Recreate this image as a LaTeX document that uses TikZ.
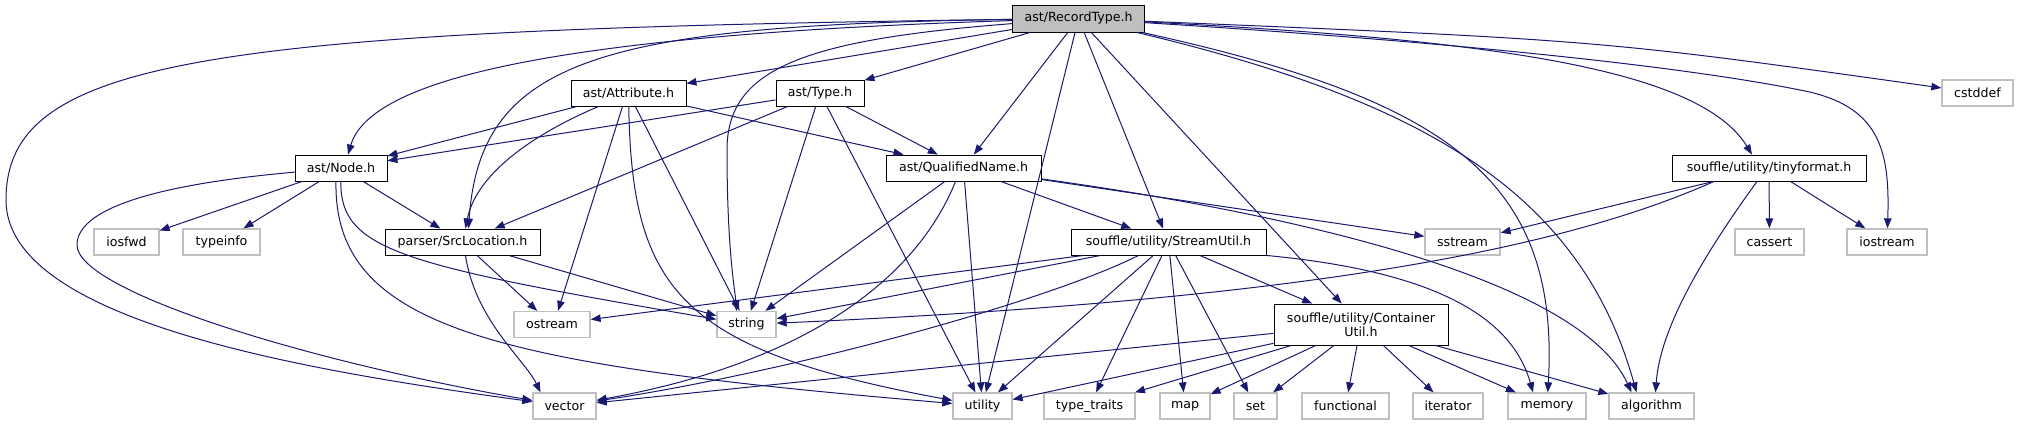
\documentclass[tikz,border=0pt]{standalone}
\usepackage{fontspec}
\setmainfont{DejaVu Sans}
\usetikzlibrary{arrows.meta}
\definecolor{depblue}{RGB}{25,25,112}
\definecolor{sysgray}{RGB}{191,191,191}
\definecolor{curgray}{RGB}{191,191,191}

\begin{document}
\begin{tikzpicture}[x=1pt, y=-1pt,
  filebox/.style={draw=black, fill=white, line width=0.9pt, inner sep=0pt,
    minimum height=26pt, font=\fontsize{12.6}{14}\selectfont},
  syshdr/.style={filebox, draw=sysgray, line width=1.3pt},
  curhdr/.style={filebox, fill=curgray},
  dep/.style={draw=depblue, line width=1pt, -{Triangle[length=10pt, width=7.5pt]}}]
  \useasboundingbox (0,0) rectangle (2018,425);

  % Headers of the project
  \node[curhdr, minimum width=132pt, minimum height=27pt] (record) at (1078.5,18.5) {ast/RecordType.h};
  \node[filebox, minimum width=115pt] (attribute) at (628.5,93) {ast/Attribute.h};
  \node[filebox, minimum width=88pt] (type) at (820,93) {ast/Type.h};
  \node[filebox, minimum width=92pt] (astnode) at (341,168) {ast/Node.h};
  \node[filebox, minimum width=155pt] (qualname) at (963.5,168) {ast/QualifiedName.h};
  \node[filebox, minimum width=194pt] (tinyfmt) at (1769,168) {souffle/utility/tinyformat.h};
  \node[filebox, minimum width=155pt] (srcloc) at (462.5,242) {parser/SrcLocation.h};
  \node[filebox, minimum width=195pt] (streamutil) at (1168.5,242) {souffle/utility/StreamUtil.h};
  \node[filebox, minimum width=174pt, minimum height=41pt, align=center] (containerutil) at (1361,324.5)
    {souffle/utility/Container\\Util.h};

  % System headers
  \node[syshdr, minimum width=71pt] (cstddef) at (1977.5,93) {cstddef};
  \node[syshdr, minimum width=65pt] (iosfwd) at (126.5,242) {iosfwd};
  \node[syshdr, minimum width=77pt] (typeinfo) at (221.5,242) {typeinfo};
  \node[syshdr, minimum width=75pt] (sstream) at (1462.5,242) {sstream};
  \node[syshdr, minimum width=69pt] (cassert) at (1769.5,242) {cassert};
  \node[syshdr, minimum width=80pt] (iostream) at (1887,242) {iostream};
  \node[syshdr, minimum width=76pt] (ostream) at (552,324.5) {ostream};
  \node[syshdr, minimum width=59pt] (string) at (746.5,324.5) {string};
  \node[syshdr, minimum width=63pt] (vector) at (564.5,406) {vector};
  \node[syshdr, minimum width=59pt] (utility) at (982.5,406) {utility};
  \node[syshdr, minimum width=91pt] (typetraits) at (1089.5,406) {type\_traits};
  \node[syshdr, minimum width=50pt] (map) at (1185,406) {map};
  \node[syshdr, minimum width=43pt] (set) at (1255.5,406) {set};
  \node[syshdr, minimum width=87pt] (functional) at (1345.5,406) {functional};
  \node[syshdr, minimum width=70pt] (iterator) at (1448,406) {iterator};
  \node[syshdr, minimum width=78pt] (memory) at (1547,406) {memory};
  \node[syshdr, minimum width=85pt] (algorithm) at (1651.5,406) {algorithm};

  % ast/RecordType.h
  \draw[dep] (record) -- (attribute);
  \draw[dep] (record) -- (type);
  \draw[dep] (record) -- (qualname);
  \draw[dep] (record) -- (utility);
  \draw[dep] (record) -- (streamutil);
  \draw[dep] (record) -- (containerutil);
  \draw[dep] (record) .. controls (200,30) and (6,60) .. (6,200)
    .. controls (6,320) and (300,370) .. (vector);
  \draw[dep] (record) .. controls (550,35) and (370,80) .. ([xshift=7pt]astnode.north);
  \draw[dep] (record) .. controls (600,25) and (480,60) .. ([xshift=6pt]srcloc.north);
  \draw[dep] (record) .. controls (800,40) and (727,70) .. (727,150)
    .. controls (727,250) and (735,290) .. ([xshift=-10pt]string.north);
  \draw[dep] (record) .. controls (1450,100) and (1560,180) .. (memory);
  \draw[dep] (record) .. controls (1420,100) and (1580,190) .. ([xshift=-15pt]algorithm.north);
  \draw[dep] (record) .. controls (1500,40) and (1700,70) .. ([xshift=-17pt]tinyfmt.north);
  \draw[dep] (record) .. controls (1500,45) and (1700,70) .. (1800,90)
    .. controls (1880,105) and (1890,150) .. (iostream);
  \draw[dep] (record) .. controls (1600,40) .. (cstddef);

  % ast/Attribute.h
  \draw[dep] (attribute) -- (astnode);
  \draw[dep] ([xshift=-30pt]attribute.south) .. controls (520,140) and (475,180) .. ([xshift=3pt]srcloc.north);
  \draw[dep] (attribute) -- (qualname);
  \draw[dep] ([xshift=-6pt]attribute.south) -- ([xshift=6pt]ostream.north);
  \draw[dep] (attribute) -- (string);
  \draw[dep] (attribute) .. controls (632,290) and (680,350) .. (utility);

  % ast/Type.h
  \draw[dep] (type) -- (astnode);
  \draw[dep] (type) -- (srcloc);
  \draw[dep] (type) -- (qualname);
  \draw[dep] (type) -- (string);
  \draw[dep] (type) -- (utility);

  % ast/Node.h
  \draw[dep] (astnode) -- (iosfwd);
  \draw[dep] (astnode) -- (typeinfo);
  \draw[dep] (astnode) -- (srcloc);
  \draw[dep] (astnode) .. controls (150,185) and (77,210) .. (77,245)
    .. controls (77,290) and (300,360) .. (vector);
  \draw[dep] (astnode) .. controls (340,250) and (400,265) .. (string);
  \draw[dep] ([xshift=-5pt]astnode.south) .. controls (333,330) and (500,365) .. (utility);

  % parser/SrcLocation.h
  \draw[dep] (srcloc) -- (ostream);
  \draw[dep] (srcloc) -- (string);
  \draw[dep] ([xshift=3pt]srcloc.south) .. controls (475,320) and (525,360) .. ([xshift=-24pt]vector.north);

  % ast/QualifiedName.h
  \draw[dep] (qualname) -- (streamutil);
  \draw[dep] (qualname) -- (sstream);
  \draw[dep] (qualname) -- (string);
  \draw[dep] ([xshift=-8pt]qualname.south) .. controls (920,270) and (820,360) .. (vector);
  \draw[dep] (qualname) -- (utility);
  \draw[dep] (qualname) .. controls (1300,215) and (1580,280) .. ([xshift=-20pt]algorithm.north);

  % souffle/utility/StreamUtil.h
  \draw[dep] (streamutil) -- (containerutil);
  \draw[dep] ([xshift=-85pt]streamutil.south) -- (ostream);
  \draw[dep] ([xshift=-68pt]streamutil.south) -- (string);
  \draw[dep] ([xshift=-30pt]streamutil.south) .. controls (1050,300) and (800,370) .. (vector);
  \draw[dep] (streamutil) -- (utility);
  \draw[dep] (streamutil) -- (typetraits);
  \draw[dep] (streamutil) -- (map);
  \draw[dep] (streamutil) -- (set);
  \draw[dep] (streamutil.south east) .. controls (1420,270) and (1510,310) .. ([xshift=-14pt]memory.north);

  % souffle/utility/ContainerUtil.h
  \draw[dep] (containerutil) -- (vector);
  \draw[dep] (containerutil) -- (utility);
  \draw[dep] (containerutil) -- (typetraits);
  \draw[dep] (containerutil) -- (map);
  \draw[dep] (containerutil) -- (set);
  \draw[dep] (containerutil) -- (functional);
  \draw[dep] (containerutil) -- (iterator);
  \draw[dep] (containerutil) -- (memory);
  \draw[dep] (containerutil) -- (algorithm);

  % souffle/utility/tinyformat.h
  \draw[dep] (tinyfmt) -- (sstream);
  \draw[dep] (tinyfmt) -- (cassert);
  \draw[dep] (tinyfmt) -- (iostream);
  \draw[dep] ([xshift=-12pt]tinyfmt.south) .. controls (1700,260) and (1660,330) .. ([xshift=4pt]algorithm.north);
  \draw[dep] ([xshift=-55pt]tinyfmt.south) .. controls (1560,250) and (1300,300) .. (string);
\end{tikzpicture}
\end{document}
